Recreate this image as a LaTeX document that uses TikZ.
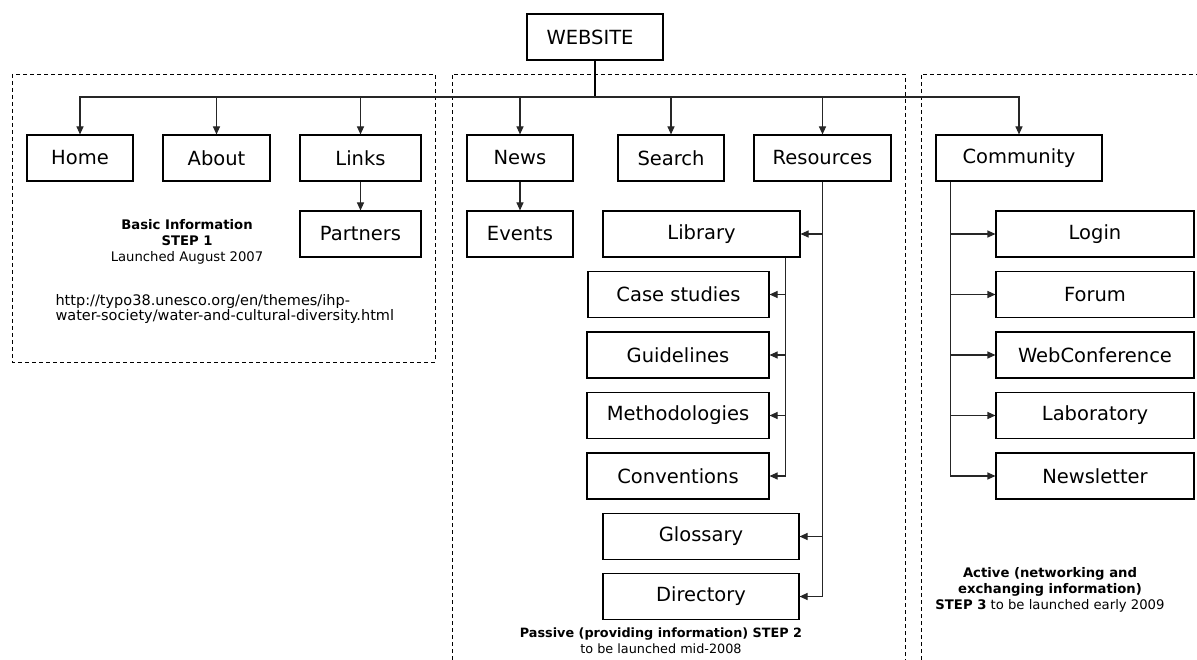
\documentclass[tikz,border=0pt]{standalone}
\usepackage{fontspec}
\setmainfont{DejaVu Sans}
\usetikzlibrary{arrows.meta, positioning, calc}

\begin{document}
\begin{tikzpicture}[
  x=1pt, y=-1pt,
  box/.style={draw, rectangle, minimum height=46pt, inner sep=2pt,
              align=center, font=\fontsize{19.5}{23}\selectfont, line width=1.1pt},
  note/.style={align=center, font=\fontsize{13.2}{15.8}\selectfont},
  arr/.style={-{Triangle[length=8pt, width=7pt]}, line width=1.1pt, color=black!85},
  trunk/.style={line width=2pt},
  frame/.style={dashed, dash pattern=on 4pt off 3pt, line width=0.9pt},
]
  \useasboundingbox (0,0) rectangle (1197,660);

  % ── Dashed step frames ──
  \draw[frame] (12,74) rectangle (435,362);
  \draw[frame] (452,660) -- (452,74) -- (905,74) -- (905,660);
  \draw[frame] (921,660) -- (921,74) -- (1197,74);

  % ── Root ──
  \node[box, minimum width=136pt] (web) at (595,37) {WEBSITE\hspace{10pt}};
  \coordinate (bus) at (595,97);

  % ── Row 1: main sections ──
  \node[box, minimum width=106pt] (home)   at (80,158)    {Home};
  \node[box, minimum width=107pt] (about)  at (216.5,158) {About};
  \node[box, minimum width=121pt] (links)  at (360.5,158) {Links};
  \node[box, minimum width=106pt] (news)   at (520,158)   {News};
  \node[box, minimum width=106pt] (search) at (671,158)   {Search};
  \node[box, minimum width=137pt] (res)    at (822.5,158) {Resources};
  \node[box, minimum width=166pt] (comm)   at (1019,158)  {Community};

  % ── Row 2: sub pages ──
  \node[box, minimum width=121pt] (partners) at (360.5,234) {Partners};
  \node[box, minimum width=106pt] (events)   at (520,234)   {Events};
  \node[box, minimum width=197pt] (library)  at (701.5,234) {Library};

  % ── Library items ──
  \node[box, minimum width=181pt] (cases)  at (678.5,294.5) {Case studies};
  \node[box, minimum width=182pt] (guide)  at (678,355)     {Guidelines};
  \node[box, minimum width=182pt] (method) at (678,415.5)   {Methodologies};
  \node[box, minimum width=182pt] (conv)   at (678,476)     {Conventions};

  % ── Other resources ──
  \node[box, minimum width=196pt] (gloss) at (701,536.5) {Glossary};
  \node[box, minimum width=196pt] (dir)   at (701,596.5) {Directory};

  % ── Community items ──
  \node[box, minimum width=198pt] (login)   at (1095,234)   {Login};
  \node[box, minimum width=198pt] (forum)   at (1095,294.5) {Forum};
  \node[box, minimum width=198pt] (webconf) at (1095,355)   {WebConference};
  \node[box, minimum width=198pt] (lab)     at (1095,415.5) {Laboratory};
  \node[box, minimum width=198pt] (nletter) at (1095,476)   {Newsletter};

  % ══ Arrows ══

  % Root → bus → sections
  \draw[trunk] (web.south) -- (bus);
  \foreach \n in {home, about, links, news, search, res, comm}
    \draw[arr] (bus) -| (\n.north);

  % Sections → sub pages
  \draw[arr] (links.south) -- (partners.north);
  \draw[arr] (news.south) -- (events.north);

  % Resources → its items (spine on the right)
  \draw[arr] (res.south) |- (dir.east);
  \draw[arr] (res.south |- library.east) -- (library.east);
  \draw[arr] (res.south |- gloss.east) -- (gloss.east);

  % Library → its items
  \coordinate (libline) at ([xshift=-15pt]library.south east);
  \draw[arr] (libline) |- (conv.east);
  \foreach \n in {cases, guide, method}
    \draw[arr] (libline |- \n.east) -- (\n.east);

  % Community → its items (spine on the left)
  \coordinate (commline) at ([xshift=15pt]comm.south west);
  \draw[arr] (commline) |- (nletter.west);
  \foreach \n in {login, forum, webconf, lab}
    \draw[arr] (commline |- \n.west) -- (\n.west);

  % ── Labels ──
  \node[note] (step1) at (187,242)
    {\textbf{Basic Information}\\\textbf{STEP 1}\\Launched August 2007};
  \node[note, align=left, anchor=west, font=\fontsize{14.5}{15.8}\selectfont] (url) at (52,309)
    {http://typo38.unesco.org/en/themes/ihp-\\water-society/water-and-cultural-diversity.html};
  \node[note, font=\fontsize{12.8}{15.8}\selectfont] (step2) at (661,641)
    {\textbf{Passive (providing information) STEP 2}\\to be launched mid-2008};
  \node[note] (step3) at (1050,590)
    {\textbf{Active (networking and}\\\textbf{exchanging information)}\\\textbf{STEP 3} to be launched early 2009};

\end{tikzpicture}
\end{document}
